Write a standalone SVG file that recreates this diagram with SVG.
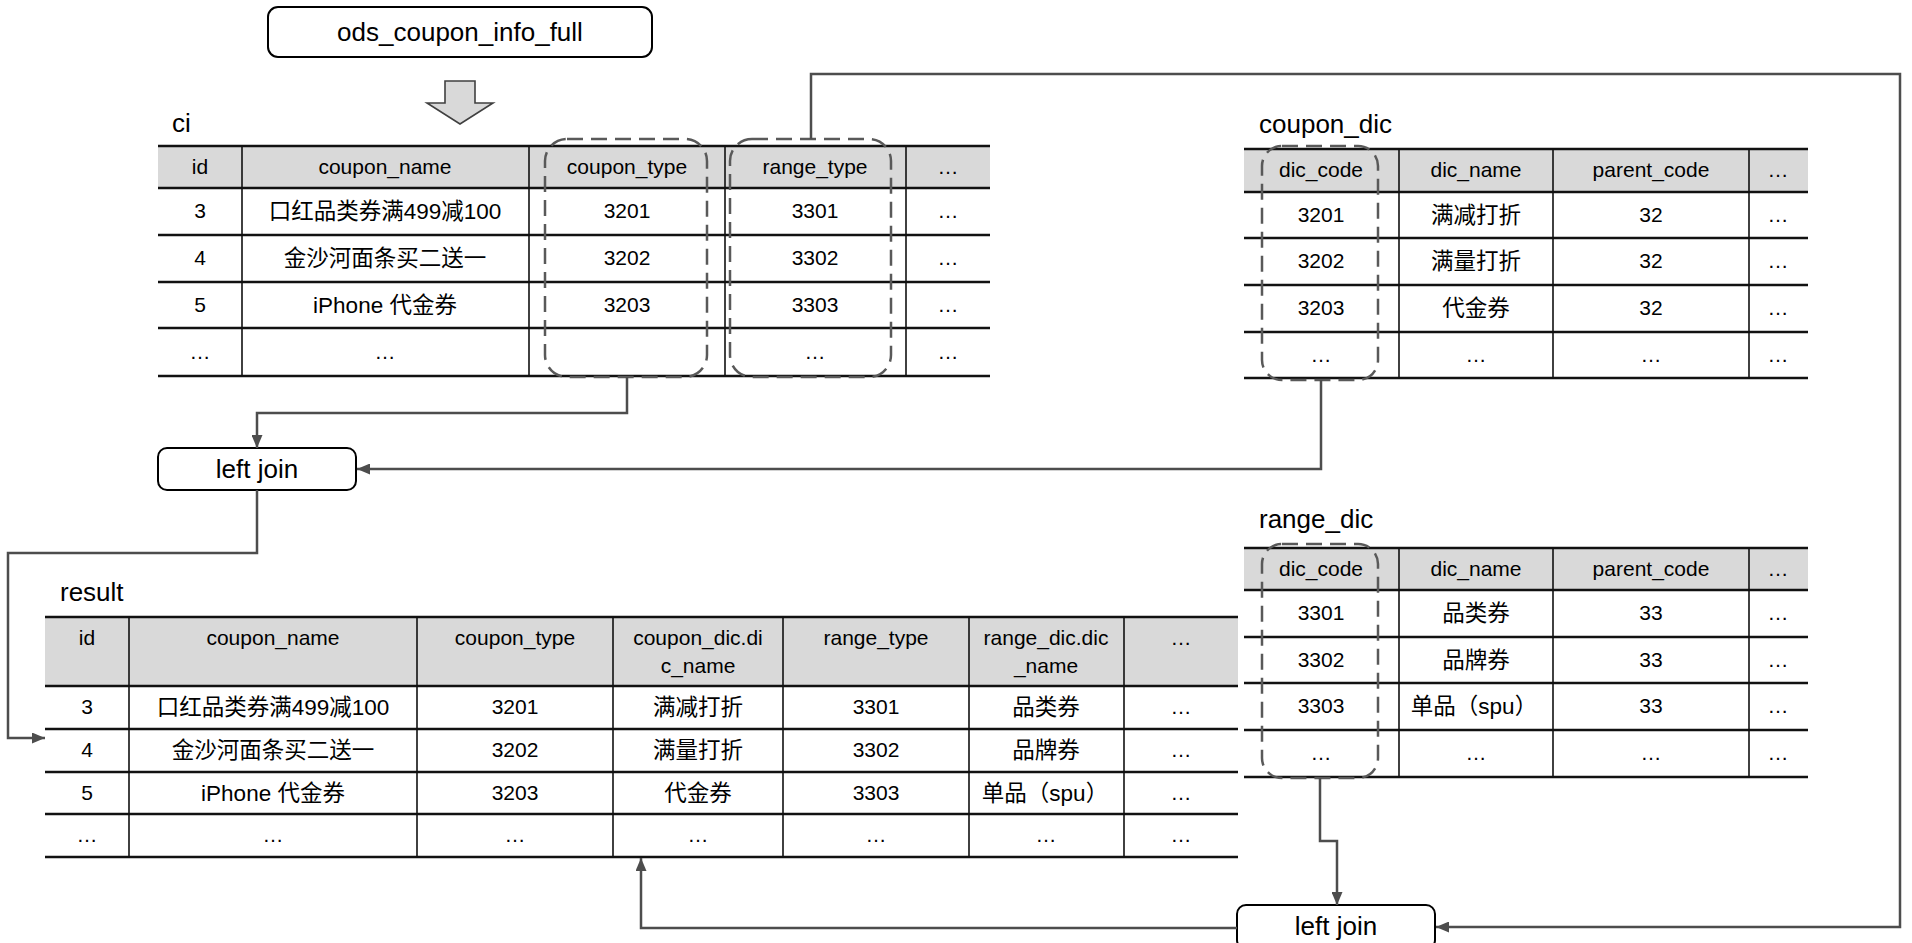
<svg xmlns="http://www.w3.org/2000/svg" width="1912" height="943" viewBox="0 0 1912 943">
<style>
.t{font-family:"Liberation Sans","Noto Sans CJK SC",sans-serif;font-size:21px;text-anchor:middle;fill:#000}
.c{font-size:22.5px}
.lbl{font-family:"Liberation Sans","Noto Sans CJK SC",sans-serif;font-size:26px;fill:#000}
.big{font-family:"Liberation Sans","Noto Sans CJK SC",sans-serif;font-size:26px;text-anchor:middle;fill:#000}
.hl{stroke:#111;stroke-width:2.5}
.vl{stroke:#111;stroke-width:1.6}
.hdr{fill:#d9d9d9}
.dash{fill:none;stroke:#595959;stroke-width:2.5;stroke-dasharray:16 8}
.conn{fill:none;stroke:#4d4d4d;stroke-width:2.5;marker-end:url(#arr)}
.box{fill:#fff;stroke:#000;stroke-width:2}
</style>
<defs>
<marker id="arr" markerUnits="userSpaceOnUse" markerWidth="13" markerHeight="11" refX="13" refY="5.5" orient="auto">
<path d="M0,0 L13,5.5 L0,11 z" fill="#4d4d4d"/>
</marker>
</defs>
<rect width="1912" height="943" fill="#fff"/>

<g id="ods">
<rect class="box" x="268" y="7" width="384" height="50" rx="10"/>
<text class="big" x="460" y="41">ods_coupon_info_full</text>
</g>
<g id="ods-arrow">
<polygon points="445,81 475,81 475,103 493,103 460,124 427,103 445,103" fill="#d9d9d9" stroke="#404040" stroke-width="1.6"/>
</g>

<g id="ci">
<text class="lbl" x="172" y="132">ci</text>
<rect class="hdr" x="158" y="146" width="832" height="42"/>
<g class="hl">
<line x1="158" y1="146" x2="990" y2="146"/><line x1="158" y1="188" x2="990" y2="188"/>
<line x1="158" y1="235" x2="990" y2="235"/><line x1="158" y1="282" x2="990" y2="282"/>
<line x1="158" y1="328" x2="990" y2="328"/><line x1="158" y1="376" x2="990" y2="376"/>
</g>
<g class="vl">
<line x1="242" y1="146" x2="242" y2="376"/><line x1="529" y1="146" x2="529" y2="376"/>
<line x1="725" y1="146" x2="725" y2="376"/><line x1="906" y1="146" x2="906" y2="376"/>
</g>
<text class="t" x="200" y="174">id</text><text class="t" x="385" y="174">coupon_name</text><text class="t" x="627" y="174">coupon_type</text><text class="t" x="815" y="174">range_type</text><text class="t" x="948" y="174">…</text>
<text class="t" x="200" y="218">3</text><text class="t c" x="385" y="219">口红品类券满499减100</text><text class="t" x="627" y="218">3201</text><text class="t" x="815" y="218">3301</text><text class="t" x="948" y="218">…</text>
<text class="t" x="200" y="265">4</text><text class="t c" x="385" y="266">金沙河面条买二送一</text><text class="t" x="627" y="265">3202</text><text class="t" x="815" y="265">3302</text><text class="t" x="948" y="265">…</text>
<text class="t" x="200" y="312">5</text><text class="t c" x="385" y="313">iPhone 代金券</text><text class="t" x="627" y="312">3203</text><text class="t" x="815" y="312">3303</text><text class="t" x="948" y="312">…</text>
<text class="t" x="200" y="359">…</text><text class="t" x="385" y="359">…</text><text class="t" x="815" y="359">…</text><text class="t" x="948" y="359">…</text>
<rect class="dash" x="545" y="139" width="162" height="238" rx="22"/>
<rect class="dash" x="730" y="139" width="161" height="238" rx="22"/>
</g>

<g id="coupon_dic">
<text class="lbl" x="1259" y="133">coupon_dic</text>
<rect class="hdr" x="1244" y="149" width="564" height="43"/>
<g class="hl">
<line x1="1244" y1="149" x2="1808" y2="149"/><line x1="1244" y1="192" x2="1808" y2="192"/>
<line x1="1244" y1="238" x2="1808" y2="238"/><line x1="1244" y1="285" x2="1808" y2="285"/>
<line x1="1244" y1="332" x2="1808" y2="332"/><line x1="1244" y1="378" x2="1808" y2="378"/>
</g>
<g class="vl">
<line x1="1399" y1="149" x2="1399" y2="378"/><line x1="1553" y1="149" x2="1553" y2="378"/><line x1="1749" y1="149" x2="1749" y2="378"/>
</g>
<text class="t" x="1321" y="177">dic_code</text><text class="t" x="1476" y="177">dic_name</text><text class="t" x="1651" y="177">parent_code</text><text class="t" x="1778" y="177">…</text>
<text class="t" x="1321" y="222">3201</text><text class="t c" x="1476" y="223">满减打折</text><text class="t" x="1651" y="222">32</text><text class="t" x="1778" y="222">…</text>
<text class="t" x="1321" y="268">3202</text><text class="t c" x="1476" y="269">满量打折</text><text class="t" x="1651" y="268">32</text><text class="t" x="1778" y="268">…</text>
<text class="t" x="1321" y="315">3203</text><text class="t c" x="1476" y="316">代金券</text><text class="t" x="1651" y="315">32</text><text class="t" x="1778" y="315">…</text>
<text class="t" x="1321" y="362">…</text><text class="t" x="1476" y="362">…</text><text class="t" x="1651" y="362">…</text><text class="t" x="1778" y="362">…</text>
<rect class="dash" x="1262" y="146" width="116" height="234" rx="20"/>
</g>

<g id="range_dic">
<text class="lbl" x="1259" y="528">range_dic</text>
<rect class="hdr" x="1244" y="548" width="564" height="42"/>
<g class="hl">
<line x1="1244" y1="548" x2="1808" y2="548"/><line x1="1244" y1="590" x2="1808" y2="590"/>
<line x1="1244" y1="637" x2="1808" y2="637"/><line x1="1244" y1="683" x2="1808" y2="683"/>
<line x1="1244" y1="730" x2="1808" y2="730"/><line x1="1244" y1="777" x2="1808" y2="777"/>
</g>
<g class="vl">
<line x1="1399" y1="548" x2="1399" y2="777"/><line x1="1553" y1="548" x2="1553" y2="777"/><line x1="1749" y1="548" x2="1749" y2="777"/>
</g>
<text class="t" x="1321" y="576">dic_code</text><text class="t" x="1476" y="576">dic_name</text><text class="t" x="1651" y="576">parent_code</text><text class="t" x="1778" y="576">…</text>
<text class="t" x="1321" y="620">3301</text><text class="t c" x="1476" y="621">品类券</text><text class="t" x="1651" y="620">33</text><text class="t" x="1778" y="620">…</text>
<text class="t" x="1321" y="667">3302</text><text class="t c" x="1476" y="668">品牌券</text><text class="t" x="1651" y="667">33</text><text class="t" x="1778" y="667">…</text>
<text class="t" x="1321" y="713">3303</text><text class="t c" x="1474" y="714">单品（spu）</text><text class="t" x="1651" y="713">33</text><text class="t" x="1778" y="713">…</text>
<text class="t" x="1321" y="760">…</text><text class="t" x="1476" y="760">…</text><text class="t" x="1651" y="760">…</text><text class="t" x="1778" y="760">…</text>
<rect class="dash" x="1262" y="544" width="116" height="234" rx="20"/>
</g>

<g id="result">
<text class="lbl" x="60" y="601">result</text>
<rect class="hdr" x="45" y="617" width="1193" height="69"/>
<g class="hl">
<line x1="45" y1="617" x2="1238" y2="617"/><line x1="45" y1="686" x2="1238" y2="686"/>
<line x1="45" y1="729" x2="1238" y2="729"/><line x1="45" y1="772" x2="1238" y2="772"/>
<line x1="45" y1="814" x2="1238" y2="814"/><line x1="45" y1="857" x2="1238" y2="857"/>
</g>
<g class="vl">
<line x1="129" y1="617" x2="129" y2="857"/><line x1="417" y1="617" x2="417" y2="857"/>
<line x1="613" y1="617" x2="613" y2="857"/><line x1="783" y1="617" x2="783" y2="857"/>
<line x1="969" y1="617" x2="969" y2="857"/><line x1="1124" y1="617" x2="1124" y2="857"/>
</g>
<text class="t" x="87" y="645">id</text><text class="t" x="273" y="645">coupon_name</text><text class="t" x="515" y="645">coupon_type</text><text class="t" x="698" y="645">coupon_dic.di</text><text class="t" x="876" y="645">range_type</text><text class="t" x="1046" y="645">range_dic.dic</text><text class="t" x="1181" y="645">…</text>
<text class="t" x="698" y="673">c_name</text><text class="t" x="1046" y="673">_name</text>
<text class="t" x="87" y="714">3</text><text class="t c" x="273" y="715">口红品类券满499减100</text><text class="t" x="515" y="714">3201</text><text class="t c" x="698" y="715">满减打折</text><text class="t" x="876" y="714">3301</text><text class="t c" x="1046" y="715">品类券</text><text class="t" x="1181" y="714">…</text>
<text class="t" x="87" y="757">4</text><text class="t c" x="273" y="758">金沙河面条买二送一</text><text class="t" x="515" y="757">3202</text><text class="t c" x="698" y="758">满量打折</text><text class="t" x="876" y="757">3302</text><text class="t c" x="1046" y="758">品牌券</text><text class="t" x="1181" y="757">…</text>
<text class="t" x="87" y="800">5</text><text class="t c" x="273" y="801">iPhone 代金券</text><text class="t" x="515" y="800">3203</text><text class="t c" x="698" y="801">代金券</text><text class="t" x="876" y="800">3303</text><text class="t c" x="1045" y="801">单品（spu）</text><text class="t" x="1181" y="800">…</text>
<text class="t" x="87" y="842">…</text><text class="t" x="273" y="842">…</text><text class="t" x="515" y="842">…</text><text class="t" x="698" y="842">…</text><text class="t" x="876" y="842">…</text><text class="t" x="1046" y="842">…</text><text class="t" x="1181" y="842">…</text>
</g>

<g id="join1">
<rect class="box" x="158" y="448" width="198" height="42" rx="9"/>
<text class="big" x="257" y="478">left join</text>
</g>
<g id="join2">
<rect class="box" x="1237" y="905" width="198" height="44" rx="9"/>
<text class="big" x="1336" y="935">left join</text>
</g>

<g id="connectors">
<path class="conn" d="M627,377 V413 H257 V448"/>
<path class="conn" d="M1321,380 V469 H357"/>
<path class="conn" d="M257,490 V553 H8 V738 H45"/>
<path class="conn" d="M811,139 V74 H1900 V927 H1436"/>
<path class="conn" d="M1320,778 V841 H1337 V905"/>
<path class="conn" d="M1237,928 H641 V858"/>
</g>
</svg>
